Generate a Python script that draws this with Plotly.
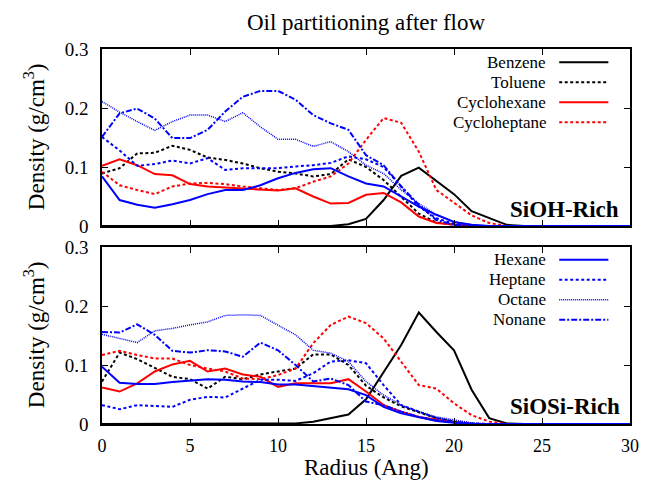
import plotly.graph_objects as go

radius = list(range(31))
Z = lambda n: [0.0] * n

# SiOH-Rich (top panel)
benzene_top = Z(14) + [0.003, 0.012, 0.044, 0.085, 0.099, 0.077, 0.054, 0.025, 0.013, 0.002] + Z(7)
toluene_top = [0.089, 0.098, 0.123, 0.124, 0.136, 0.129, 0.116, 0.112, 0.106, 0.098, 0.092,
               0.089, 0.084, 0.088, 0.113, 0.100, 0.078, 0.050, 0.021, 0.006, 0.002] + Z(10)
cyclohexane_top = [0.102, 0.113, 0.103, 0.088, 0.086, 0.071, 0.067, 0.065, 0.064, 0.062, 0.060,
                   0.064, 0.050, 0.038, 0.039, 0.053, 0.056, 0.040, 0.016, 0.005, 0.002] + Z(10)
cycloheptane_top = [0.092, 0.069, 0.061, 0.054, 0.067, 0.072, 0.073, 0.071, 0.067, 0.064, 0.061,
                    0.064, 0.075, 0.084, 0.106, 0.146, 0.183, 0.175, 0.126, 0.061, 0.040,
                    0.018, 0.005] + Z(8)
hexane_top = [0.084, 0.044, 0.036, 0.031, 0.037, 0.044, 0.054, 0.061, 0.061, 0.069, 0.081,
              0.090, 0.096, 0.098, 0.084, 0.072, 0.067, 0.050, 0.033, 0.019, 0.007, 0.002] + Z(9)
heptane_top = [0.151, 0.128, 0.102, 0.105, 0.111, 0.106, 0.115, 0.095, 0.098, 0.098, 0.098,
               0.101, 0.103, 0.107, 0.118, 0.113, 0.100, 0.067, 0.033, 0.013, 0.004] + Z(10)
octane_top = [0.211, 0.193, 0.177, 0.162, 0.177, 0.188, 0.188, 0.177, 0.192, 0.168, 0.147,
              0.147, 0.135, 0.143, 0.126, 0.103, 0.089, 0.061, 0.038, 0.019, 0.007, 0.002] + Z(9)
nonane_top = [0.151, 0.191, 0.199, 0.182, 0.149, 0.149, 0.163, 0.194, 0.219, 0.229, 0.229,
              0.214, 0.188, 0.174, 0.163, 0.120, 0.103, 0.067, 0.036, 0.010, 0.002] + Z(10)

# SiOSi-Rich (bottom panel)
benzene_bot = Z(11) + [0.001, 0.004, 0.010, 0.016, 0.042, 0.089, 0.134, 0.189, 0.156, 0.125,
                       0.058, 0.010, 0.001] + Z(7)
toluene_bot = [0.072, 0.121, 0.110, 0.095, 0.080, 0.076, 0.060, 0.080, 0.076, 0.084, 0.089,
               0.094, 0.118, 0.118, 0.100, 0.065, 0.045, 0.030, 0.020, 0.010, 0.004, 0.001] + Z(9)
cyclohexane_bot = [0.062, 0.055, 0.069, 0.089, 0.101, 0.107, 0.089, 0.094, 0.084, 0.080, 0.063,
                   0.069, 0.069, 0.069, 0.076, 0.055, 0.032, 0.021, 0.012, 0.007, 0.003] + Z(10)
cycloheptane_bot = [0.117, 0.124, 0.117, 0.111, 0.111, 0.100, 0.094, 0.089, 0.077, 0.076, 0.083,
                    0.094, 0.137, 0.168, 0.182, 0.171, 0.145, 0.106, 0.066, 0.060, 0.035,
                    0.015, 0.004] + Z(8)
hexane_bot = [0.097, 0.070, 0.068, 0.068, 0.071, 0.073, 0.076, 0.075, 0.072, 0.071, 0.067,
              0.067, 0.064, 0.062, 0.059, 0.049, 0.029, 0.018, 0.011, 0.005, 0.002] + Z(10)
heptane_bot = [0.032, 0.025, 0.032, 0.031, 0.029, 0.041, 0.046, 0.045, 0.060, 0.075, 0.075,
               0.073, 0.086, 0.106, 0.108, 0.103, 0.066, 0.032, 0.021, 0.010, 0.004] + Z(10)
octane_bot = [0.152, 0.145, 0.138, 0.158, 0.162, 0.168, 0.173, 0.184, 0.185, 0.184, 0.168,
              0.151, 0.125, 0.120, 0.106, 0.072, 0.049, 0.032, 0.021, 0.012, 0.007, 0.002] + Z(9)
nonane_bot = [0.156, 0.155, 0.169, 0.151, 0.124, 0.121, 0.125, 0.123, 0.114, 0.138, 0.125,
              0.100, 0.072, 0.077, 0.066, 0.038, 0.032, 0.021, 0.012, 0.006, 0.003] + Z(10)

names = ["Benzene", "Toluene", "Cyclohexane", "Cycloheptane",
         "Hexane", "Heptane", "Octane", "Nonane"]
top_series = [benzene_top, toluene_top, cyclohexane_top, cycloheptane_top,
              hexane_top, heptane_top, octane_top, nonane_top]
bot_series = [benzene_bot, toluene_bot, cyclohexane_bot, cycloheptane_bot,
              hexane_bot, heptane_bot, octane_bot, nonane_bot]

BLUE = "#0000ff"
RED = "#ff0000"
styles = [
    dict(color="black", dash="solid", width=2),
    dict(color="black", dash="3px,2.5px", width=2),
    dict(color=RED, dash="solid", width=2),
    dict(color=RED, dash="3px,2.5px", width=2),
    dict(color=BLUE, dash="solid", width=2),
    dict(color=BLUE, dash="3px,2.5px", width=2),
    dict(color=BLUE, dash="1px,1px", width=1.5),
    dict(color=BLUE, dash="6px,2px,2px,2px", width=2),
]

FONT = "Liberation Serif, Times New Roman, DejaVu Serif, serif"
fig = go.Figure()
for nm, ys, st in zip(names, top_series, styles):
    fig.add_trace(go.Scatter(x=radius, y=ys, mode="lines", name=nm, line=st,
                             xaxis="x2", yaxis="y2", showlegend=False))
for nm, ys, st in zip(names, bot_series, styles):
    fig.add_trace(go.Scatter(x=radius, y=ys, mode="lines", name=nm, line=st,
                             xaxis="x", yaxis="y", showlegend=False))

# pixel helpers (plot area: x 102..639, y 49..424)
L, R_, T, B = 102, 639, 49, 424
px = lambda p: (p - L) / (R_ - L)
py = lambda p: (B - p) / (B - T)

shapes = []
annotations = []
leg_rows_top = [62.2, 82.2, 102.2, 122.2]
leg_rows_bot = [259.7, 279.7, 299.7, 319.7]
for i, (nm, st) in enumerate(zip(names, styles)):
    yy = leg_rows_top[i] if i < 4 else leg_rows_bot[i - 4]
    annotations.append(dict(x=px(556), y=py(yy), xref="paper", yref="paper", text=nm,
                            showarrow=False, xanchor="right", yanchor="middle",
                            font=dict(family=FONT, size=17, color="black")))
    shapes.append(dict(type="line", xref="paper", yref="paper", x0=px(567), x1=px(617),
                       y0=py(yy), y1=py(yy), line=st))

annotations += [
    dict(x=px(630), y=py(209), xref="paper", yref="paper", text="<b>SiOH-Rich</b>",
         showarrow=False, xanchor="right", yanchor="middle",
         font=dict(family=FONT, size=23, color="black")),
    dict(x=px(631), y=py(406), xref="paper", yref="paper", text="<b>SiOSi-Rich</b>",
         showarrow=False, xanchor="right", yanchor="middle",
         font=dict(family=FONT, size=23, color="black")),
    dict(x=px(370.5), y=py(467), xref="paper", yref="paper", text="Radius (Ang)",
         showarrow=False, xanchor="center", yanchor="middle",
         font=dict(family=FONT, size=23, color="black")),
    dict(x=px(33), y=py(137), xref="paper", yref="paper", text="Density (g/cm<sup>3</sup>)",
         showarrow=False, xanchor="center", yanchor="middle", textangle=-90,
         font=dict(family=FONT, size=23, color="black")),
    dict(x=px(33), y=py(335), xref="paper", yref="paper", text="Density (g/cm<sup>3</sup>)",
         showarrow=False, xanchor="center", yanchor="middle", textangle=-90,
         font=dict(family=FONT, size=23, color="black")),
]

xcommon = dict(range=[0, 30], tickvals=[0, 5, 10, 15, 20, 25, 30], ticks="inside",
               ticklen=6, tickwidth=1, tickcolor="black", showline=True, linecolor="black",
               linewidth=1.5, mirror="allticks", showgrid=False, zeroline=False,
               tickfont=dict(family=FONT, size=18, color="black"))
ycommon = dict(range=[0, 0.3], tickvals=[0, 0.1, 0.2, 0.3], ticktext=["0", "0.1", "0.2", "0.3"],
               ticks="inside", ticklen=6, tickwidth=1, tickcolor="black", showline=True,
               linecolor="black", linewidth=1.5, mirror="allticks", showgrid=False,
               zeroline=False, ticklabelstandoff=8,
               tickfont=dict(family=FONT, size=19, color="black"))

fig.update_layout(
    width=648, height=481,
    margin=dict(l=L, r=648 - R_, t=T, b=481 - B),
    paper_bgcolor="white", plot_bgcolor="white",
    font=dict(family=FONT, color="black"),
    title=dict(text="Oil partitioning after flow", x=px(370.5), xref="paper",
               y=(481 - 22) / 481, yref="container", xanchor="center", yanchor="middle",
               font=dict(family=FONT, size=23, color="black")),
    xaxis=dict(domain=[0, 1], anchor="y", ticklabelstandoff=5, **xcommon),
    xaxis2=dict(domain=[0, 1], anchor="y2", showticklabels=False, **xcommon),
    yaxis=dict(domain=[0, py(247)], anchor="x", **ycommon),
    yaxis2=dict(domain=[py(226), 1], anchor="x2", **ycommon),
    shapes=shapes, annotations=annotations,
)

fig.write_html("out.html")
